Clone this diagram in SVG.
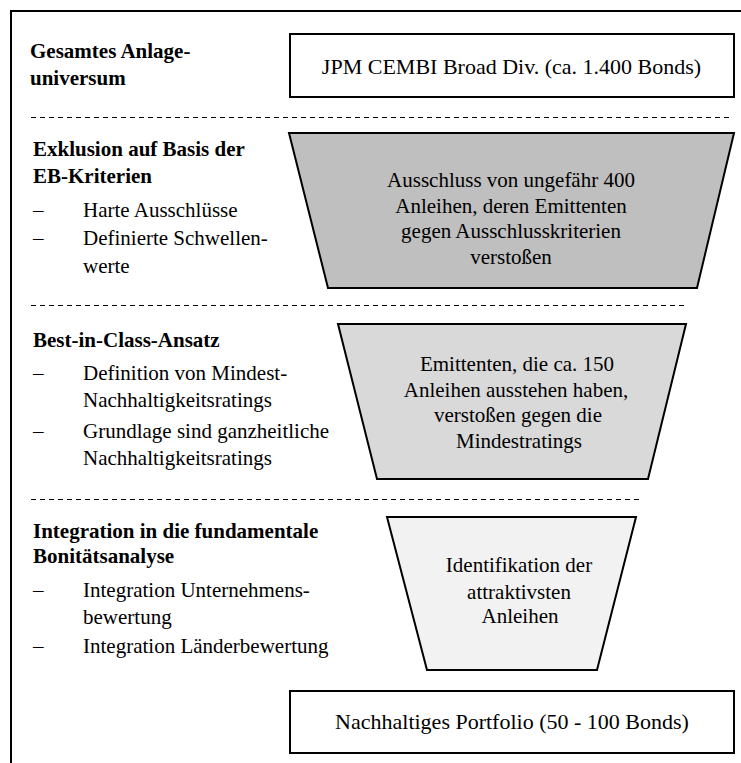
<svg xmlns="http://www.w3.org/2000/svg" width="741" height="763" viewBox="0 0 741 763">
<style>
text{font-family:"Liberation Serif","Times New Roman",serif;font-size:21px;fill:#000}
.b{font-weight:bold}
.c{text-anchor:middle}
.l{font-size:22px}
.box{fill:#fff;stroke:#000;stroke-width:2}
.trap{stroke:#000;stroke-width:2}
.dash{stroke:#000;stroke-width:1;stroke-dasharray:5,4;fill:none}
</style>
<rect width="741" height="763" fill="#fff"/>
<path d="M11,763 V11 H741" fill="none" stroke="#000" stroke-width="2"/>
<g id="separators">
<line class="dash" x1="31" y1="117.5" x2="733" y2="117.5"/>
<line class="dash" x1="31" y1="305.5" x2="684" y2="305.5"/>
<line class="dash" x1="31" y1="499.5" x2="642" y2="499.5"/>
</g>
<g id="label-universum">
<text class="b" x="30" y="58">Gesamtes Anlage-</text>
<text class="b" x="30" y="85">universum</text>
</g>
<g id="node-universum">
<rect class="box" x="290" y="34" width="444" height="63"/>
<text class="c l" x="511.5" y="74">JPM CEMBI Broad Div. (ca. 1.400 Bonds)</text>
</g>
<g id="label-exklusion">
<text class="b" x="33" y="156">Exklusion auf Basis der</text>
<text class="b" x="33" y="183">EB-Kriterien</text>
<text x="33" y="217">–</text><text x="83" y="217">Harte Ausschlüsse</text>
<text x="33" y="245">–</text><text x="83" y="245">Definierte Schwellen-</text>
<text x="83" y="273">werte</text>
</g>
<g id="node-exklusion">
<polygon class="trap" fill="#BFBFBF" points="289,133 734,133 697,288 328,288"/>
<text class="c" x="511" y="187">Ausschluss von ungefähr  400</text>
<text class="c" x="511" y="213">Anleihen, deren Emittenten</text>
<text class="c" x="511" y="238">gegen Ausschlusskriterien</text>
<text class="c" x="511" y="264">verstoßen</text>
</g>
<g id="label-bestinclass">
<text class="b" x="33" y="347">Best-in-Class-Ansatz</text>
<text x="33" y="380">–</text><text x="83" y="380">Definition von Mindest-</text>
<text x="83" y="407">Nachhaltigkeitsratings</text>
<text x="33" y="438">–</text><text x="83" y="438">Grundlage sind ganzheitliche</text>
<text x="83" y="465">Nachhaltigkeitsratings</text>
</g>
<g id="node-bestinclass">
<polygon class="trap" fill="#D9D9D9" points="338,324 686,324 648,479 377,479"/>
<text class="c" x="517" y="371">Emittenten,  die ca. 150</text>
<text class="c" x="516" y="397">Anleihen ausstehen haben,</text>
<text class="c" x="518" y="422">verstoßen gegen die</text>
<text class="c" x="519" y="448">Mindestratings</text>
</g>
<g id="label-integration">
<text class="b" x="33" y="538">Integration in die fundamentale</text>
<text class="b" x="33" y="563">Bonitätsanalyse</text>
<text x="33" y="597">–</text><text x="83" y="597">Integration Unternehmens-</text>
<text x="83" y="624">bewertung</text>
<text x="33" y="653">–</text><text x="83" y="653">Integration Länderbewertung</text>
</g>
<g id="node-integration">
<polygon class="trap" fill="#F2F2F2" points="387,517 636,517 597,670 427,670"/>
<text class="c" x="519" y="572">Identifikation der</text>
<text class="c" x="519" y="599">attraktivsten</text>
<text class="c" x="520" y="623">Anleihen</text>
</g>
<g id="node-portfolio">
<rect class="box" x="290" y="691" width="444" height="62"/>
<text class="c l" x="512" y="729">Nachhaltiges Portfolio (50 - 100 Bonds)</text>
</g>
</svg>
